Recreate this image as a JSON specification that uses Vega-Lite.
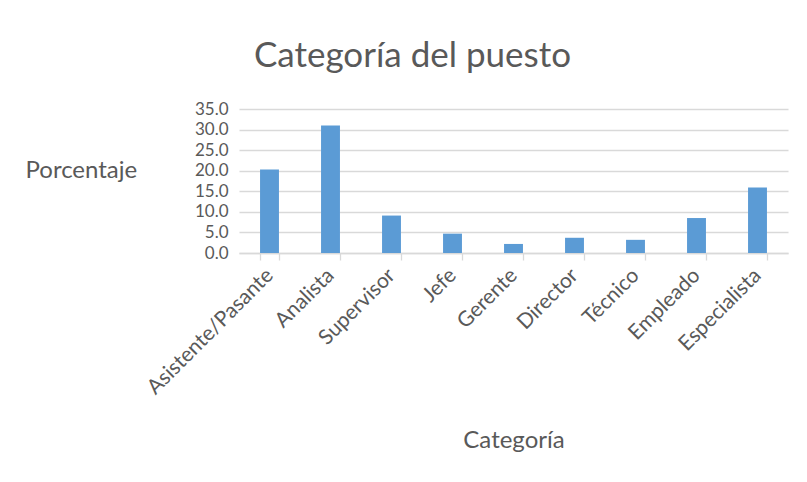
{
  "$schema": "https://vega.github.io/schema/vega-lite/v6.json",
  "width": 549,
  "height": 144,
  "autosize": "none",
  "padding": {"left": 239, "top": 109, "right": 19, "bottom": 229},
  "background": "white",
  "title": {
    "text": "Categoría del puesto",
    "anchor": "middle",
    "frame": "group",
    "dx": -101,
    "dy": 38,
    "baseline": "alphabetic",
    "offset": 36,
    "font": "Lato",
    "fontSize": 35,
    "fontWeight": "normal",
    "color": "#595959"
  },
  "data": {
    "values": [
      {"categoria": "Asistente/Pasante", "porcentaje": 20.3},
      {"categoria": "Analista", "porcentaje": 31.0},
      {"categoria": "Supervisor", "porcentaje": 9.1},
      {"categoria": "Jefe", "porcentaje": 4.7},
      {"categoria": "Gerente", "porcentaje": 2.2},
      {"categoria": "Director", "porcentaje": 3.7},
      {"categoria": "Técnico", "porcentaje": 3.2},
      {"categoria": "Empleado", "porcentaje": 8.5},
      {"categoria": "Especialista", "porcentaje": 15.9}
    ]
  },
  "mark": {"type": "bar", "color": "#5B9BD5"},
  "encoding": {
    "x": {
      "field": "categoria",
      "type": "nominal",
      "sort": null,
      "scale": {"paddingInner": 0.69, "paddingOuter": 0.345},
      "axis": {
        "title": "Categoría",
        "titleFont": "Lato",
        "titleFontSize": 24,
        "titleFontWeight": "normal",
        "titleColor": "#595959",
        "titleX": 274.5,
        "titleY": 187,
        "titleAlign": "center",
        "titleBaseline": "middle",
        "labelAngle": -45,
        "labelAlign": "right",
        "labelBaseline": "middle",
        "labelPadding": 12,
        "labelFont": "Lato",
        "labelFontSize": 21,
        "labelColor": "#595959",
        "labelOverlap": false,
        "domainColor": "#d9d9d9",
        "domainWidth": 1.3,
        "tickColor": "#d9d9d9",
        "tickWidth": 1.3,
        "tickSize": 7,
        "tickBand": "extent",
        "grid": false
      }
    },
    "y": {
      "field": "porcentaje",
      "type": "quantitative",
      "scale": {"domain": [0, 35], "nice": false},
      "axis": {
        "values": [0, 5, 10, 15, 20, 25, 30, 35],
        "format": ".1f",
        "title": "Porcentaje",
        "titleFont": "Lato",
        "titleFontSize": 24,
        "titleFontWeight": "normal",
        "titleColor": "#595959",
        "titleAngle": 0,
        "titleAlign": "left",
        "titleBaseline": "middle",
        "titleX": -214,
        "titleY": 61,
        "labelFont": "Lato",
        "labelFontSize": 17,
        "labelColor": "#595959",
        "labelPadding": 11,
        "labelOverlap": false,
        "domain": false,
        "ticks": false,
        "grid": true,
        "gridColor": "#d9d9d9",
        "gridWidth": 1.3
      }
    }
  },
  "config": {"view": {"stroke": null}}
}
